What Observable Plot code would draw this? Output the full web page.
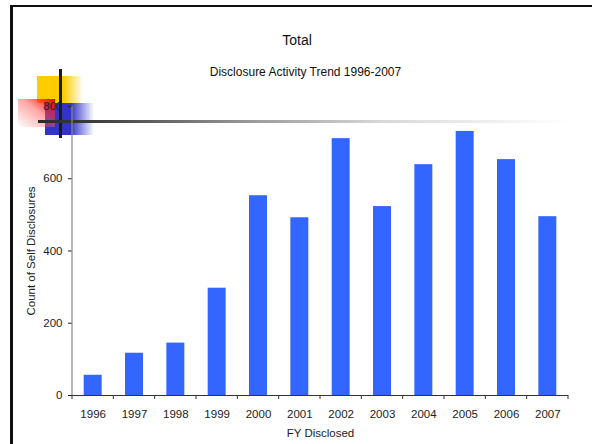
<!DOCTYPE html>
<html>
<head>
<meta charset="utf-8">
<script src="https://cdn.jsdelivr.net/npm/d3@7"></script>
<script src="https://cdn.jsdelivr.net/npm/@observablehq/plot@0.6"></script>
<style>
  html, body { margin: 0; padding: 0; background: #fff; }
  #slide { position: relative; width: 592px; height: 444px; overflow: hidden; background: #fff; }
  #slide .deco { position: absolute; }
  #chart { position: absolute; left: 0; top: 0; }
</style>
</head>
<body>
<div id="slide">
  <!-- slide frame -->
  <div class="deco" style="left:10px; top:5px; width:700px; height:600px; border-left:3px solid #111; border-top:2.5px solid #111;"></div>
  <!-- corner ornament -->
  <div class="deco" style="left:37px; top:76px; width:46px; height:27px; background:linear-gradient(to right, #FFCC00 0%, #FFCC00 58%, rgba(255,204,0,0) 100%);"></div>
  <div class="deco" style="left:45px; top:103px; width:49px; height:32px; background:linear-gradient(to right, #3333CC 0%, #3333CC 52%, rgba(51,51,204,0) 100%);"></div>
  <div class="deco" style="left:18px; top:99px; width:37px; height:28px; background:linear-gradient(to bottom left, rgba(255,0,0,1) 0%, rgba(255,80,80,0.5) 45%, rgba(255,255,255,0) 100%);"></div>
  <div class="deco" style="left:59px; top:69px; width:3px; height:69px; background:#1a1a1a;"></div>
  <div class="deco" style="left:38px; top:120px; width:530px; height:3px; background:linear-gradient(to right, #2a2a2a 0%, #3a3a3a 10%, #9a9a9a 40%, #d8d8d8 65%, rgba(255,255,255,0) 100%);"></div>
  <div id="chart"></div>
</div>
<script>
// Self-disclosure counts by fiscal year
const years = ["1996", "1997", "1998", "1999", "2000", "2001", "2002", "2003", "2004", "2005", "2006", "2007"];
const counts = [56, 117, 145, 297, 553, 492, 711, 523, 639, 731, 653, 495];
const yTicks = [0, 200, 400, 600, 800];

const chartTitle = "Total";
const chartSubtitle = "Disclosure Activity Trend 1996-2007";
const xTitle = "FY Disclosed";
const yTitle = "Count of Self Disclosures";

const rows = years.map((year, i) => ({year, count: counts[i]}));

const FONT = "'Liberation Sans', Arial, sans-serif";

// vertical axis line along the left edge of the plot frame
function yAxisLine(index, scales, values, {height, marginLeft, marginTop, marginBottom}) {
  return d3.create("svg:line")
    .attr("x1", marginLeft).attr("x2", marginLeft)
    .attr("y1", marginTop).attr("y2", height - marginBottom)
    .attr("stroke", "#888").attr("stroke-width", 1.2)
    .node();
}

// category-axis ticks sit on the band boundaries, between the bars
function bandBoundaryTicks(index, {x}, values, {height, marginBottom}) {
  const dom = x.domain();
  const step = x(dom[1]) - x(dom[0]);
  const off = (step - x.bandwidth()) / 2;
  const xs = dom.map(d => x(d) - off).concat([x(dom[dom.length - 1]) + x.bandwidth() + off]);
  const y0 = height - marginBottom;
  const g = d3.create("svg:g").attr("stroke", "#333").attr("stroke-width", 1);
  g.selectAll("line").data(xs).join("line")
    .attr("x1", d => d).attr("x2", d => d)
    .attr("y1", y0).attr("y2", y0 + 4);
  return g.node();
}

const chart = Plot.plot({
  width: 592,
  height: 444,
  marginLeft: 72,
  marginRight: 24,
  marginTop: 106,
  marginBottom: 49,
  style: {background: "transparent", fontFamily: FONT, fontSize: "11.5px", color: "#222"},
  x: {
    domain: years,
    paddingInner: 0.565,
    paddingOuter: 0.2825,
    round: false,
    tickSize: 0,
    tickPadding: 14,
    label: null
  },
  y: {
    domain: [0, 800],
    ticks: yTicks,
    tickSize: 4,
    tickPadding: 6,
    label: null
  },
  marks: [
    Plot.barY(rows, {x: "year", y: "count", fill: "#3366FF"}),
    yAxisLine,
    Plot.ruleY([0], {stroke: "#333", strokeWidth: 1.2}),
    bandBoundaryTicks,
    Plot.text([xTitle], {frameAnchor: "bottom", dy: 37.5, lineAnchor: "middle", fontSize: 11.5, fill: "#222"}),
    Plot.text([yTitle], {frameAnchor: "left", dx: -41, rotate: -90, textAnchor: "middle", lineAnchor: "middle", fontSize: 11.5, fill: "#222"}),
    Plot.text([chartTitle], {frameAnchor: "top-left", dx: 224.5, dy: -65.5, textAnchor: "middle", lineAnchor: "middle", fontSize: 14, fill: "#111"}),
    Plot.text([chartSubtitle], {frameAnchor: "top-left", dx: 233, dy: -34.8, textAnchor: "middle", lineAnchor: "middle", fontSize: 12, fill: "#111"})
  ]
});

document.getElementById("chart").appendChild(chart);
</script>
</body>
</html>
